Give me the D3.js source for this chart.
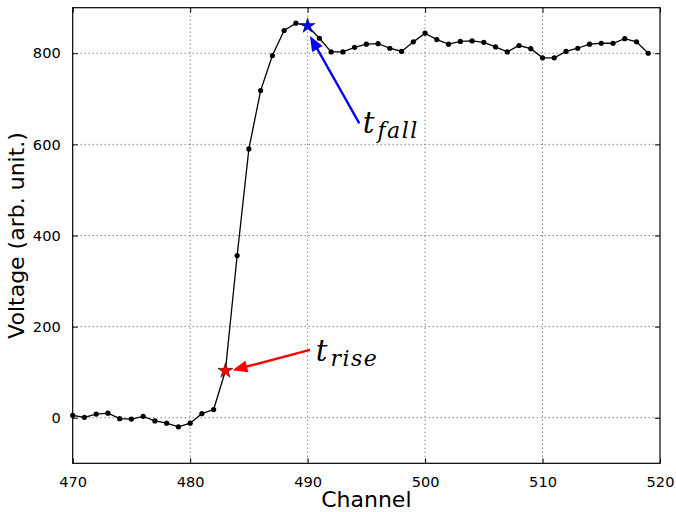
<!DOCTYPE html>
<html>
<head>
<meta charset="utf-8">
<script src="https://cdn.jsdelivr.net/npm/d3@7"></script>
<style>
  body { margin: 0; background: #fff; }
  svg { display: block; }
</style>
</head>
<body>
<svg id="chart" width="676" height="512"></svg>
<script>
// signal, one value per channel 470..519
var channels = d3.range(470, 520);
var voltage = [
    5, 1, 8, 10, -2, -3, 3, -7, -12, -20,
    -12, 9, 18, 103, 356, 590, 718, 795, 850, 866,
    860, 833, 803, 803, 813, 820, 821, 811, 804, 825,
    844, 830, 820, 826, 827, 824, 814, 803, 817, 810,
    790, 790, 804, 811, 820, 822, 822, 832, 825, 800
];

var xTicks = [470, 480, 490, 500, 510, 520];
var yTicks = [0, 200, 400, 600, 800];

// marked points and their labels (data coords)
var risePoint = [483, 103];
var fallPoint = [490, 860];
var riseArrow = [[490.2, 149], [483.6, 104]];
var fallArrow = [[494.4, 646], [490.2, 838]];
var riseLabelAt = [490.7, 124];
var fallLabelAt = [494.7, 625];

var margin = { left: 72.7, top: 7.7, right: 16, bottom: 48.7 };
var W = 676, H = 512;
var w = W - margin.left - margin.right;
var h = H - margin.top - margin.bottom;

var svg = d3.select('#chart');
var g = svg.append('g').attr('transform', 'translate(' + margin.left + ',' + margin.top + ')');

var x = d3.scaleLinear().domain([470, 520]).range([0, w]);
var y = d3.scaleLinear().domain([-100, 900]).range([h, 0]);

// grid
g.append('g').selectAll('line').data(xTicks.slice(1, -1)).enter().append('line')
    .attr('x1', function (d) { return x(d); }).attr('x2', function (d) { return x(d); })
    .attr('y1', 0).attr('y2', h)
    .attr('stroke', '#000').attr('stroke-width', 0.7).attr('stroke-dasharray', '1,3');
g.append('g').selectAll('line').data(yTicks).enter().append('line')
    .attr('y1', function (d) { return y(d); }).attr('y2', function (d) { return y(d); })
    .attr('x1', 0).attr('x2', w)
    .attr('stroke', '#000').attr('stroke-width', 0.7).attr('stroke-dasharray', '1,3');

// axes, ticks pointing inward on all sides
var tickFont = '14.6px "DejaVu Sans"';
function styleAxis(sel) {
    sel.select('.domain').remove();
    sel.selectAll('.tick line').attr('stroke', '#000').attr('stroke-width', 1);
    sel.selectAll('.tick text').style('font', tickFont).attr('fill', '#000');
}
g.append('g').attr('transform', 'translate(0,' + h + ')')
    .call(d3.axisBottom(x).tickValues(xTicks).tickSizeInner(-5).tickPadding(13).tickFormat(d3.format('d')))
    .call(styleAxis);
g.append('g')
    .call(d3.axisTop(x).tickValues(xTicks).tickSizeInner(-5).tickFormat(''))
    .call(styleAxis);
g.append('g')
    .call(d3.axisLeft(y).tickValues(yTicks).tickSizeInner(-5).tickPadding(12).tickFormat(d3.format('d')))
    .call(styleAxis);
g.append('g').attr('transform', 'translate(' + w + ',0)')
    .call(d3.axisRight(y).tickValues(yTicks).tickSizeInner(-5).tickFormat(''))
    .call(styleAxis);

g.append('rect').attr('width', w).attr('height', h)
    .attr('fill', 'none').attr('stroke', '#000').attr('stroke-width', 1.2);

// signal
var pts = channels.map(function (c, i) { return [c, voltage[i]]; });
g.append('path').datum(pts)
    .attr('fill', 'none').attr('stroke', '#000').attr('stroke-width', 1.3)
    .attr('d', d3.line().x(function (d) { return x(d[0]); }).y(function (d) { return y(d[1]); }));
g.append('g').selectAll('circle').data(pts).enter().append('circle')
    .attr('cx', function (d) { return x(d[0]); })
    .attr('cy', function (d) { return y(d[1]); })
    .attr('r', 2.6).attr('fill', '#000');

// stars
var star = d3.symbol().type(d3.symbolStar).size(70);
[[risePoint, 'red'], [fallPoint, 'blue']].forEach(function (s) {
    g.append('path').attr('d', star)
        .attr('transform', 'translate(' + x(s[0][0]) + ',' + y(s[0][1]) + ')')
        .attr('fill', s[1]).attr('stroke', '#000').attr('stroke-width', 0.5);
});

// arrows
function arrow(a, color) {
    var x0 = x(a[0][0]), y0 = y(a[0][1]), x1 = x(a[1][0]), y1 = y(a[1][1]);
    var dx = x1 - x0, dy = y1 - y0, L = Math.sqrt(dx * dx + dy * dy);
    var ux = dx / L, uy = dy / L, hl = 15, hw = 6;
    var bx = x1 - ux * hl, by = y1 - uy * hl;
    g.append('line').attr('x1', x0).attr('y1', y0).attr('x2', bx + ux * 2).attr('y2', by + uy * 2)
        .attr('stroke', color).attr('stroke-width', 2.4);
    g.append('path')
        .attr('d', 'M' + x1 + ',' + y1 + 'L' + (bx - uy * hw) + ',' + (by + ux * hw) +
            'L' + (bx + uy * hw) + ',' + (by - ux * hw) + 'Z')
        .attr('fill', color);
}
arrow(riseArrow, 'red');
arrow(fallArrow, 'blue');

// math labels
function mathLabel(at, sub) {
    var t = g.append('text')
        .attr('x', x(at[0])).attr('y', y(at[1]))
        .style('font-family', '"DejaVu Serif"').style('font-style', 'italic')
        .attr('fill', '#000');
    t.append('tspan').style('font-size', '29px').text('t');
    t.append('tspan').style('font-size', '22px').style('letter-spacing', '1.5px')
        .attr('dx', 3).attr('dy', 5).text(sub);
}
mathLabel(riseLabelAt, 'rise');
mathLabel(fallLabelAt, 'fall');

// axis titles
svg.append('text')
    .attr('x', margin.left + w / 2).attr('y', 507)
    .attr('text-anchor', 'middle')
    .style('font', '22px "DejaVu Sans"')
    .text('Channel');
svg.append('text')
    .attr('transform', 'translate(24,' + (margin.top + h / 2) + ') rotate(-90)')
    .attr('text-anchor', 'middle')
    .style('font', '22px "DejaVu Sans"')
    .text('Voltage (arb. unit.)');
</script>
</body>
</html>
